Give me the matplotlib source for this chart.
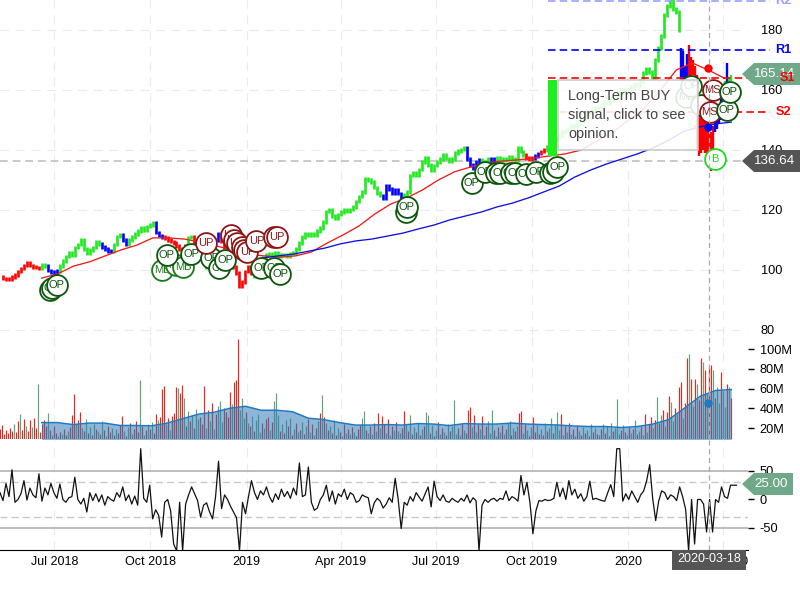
import matplotlib
matplotlib.use("Agg")
import matplotlib.pyplot as plt
import matplotlib.dates as mdates
from matplotlib.patches import Polygon, Rectangle
import numpy as np
import pandas as pd

plt.rcParams.update({
    "font.family": ["Liberation Sans", "DejaVu Sans"],
    "font.size": 9,
    "axes.unicode_minus": False,
})

# ---- price (daily bars, thinned out) ----
price_close = [
    97.8, 97.2, 96.8, 97.0, 97.6, 98.3, 99.5, 100.5, 101.5, 102.3, 101.5, 101.0, 100.8, 100.6, 101.6, 101.4, 99.8, 99.3, 99.0, 99.6,
    101.3, 103.0, 104.5, 105.6, 105.0, 107.5, 108.5, 110.0, 107.0, 105.7, 106.7, 107.5, 109.4, 108.6, 107.6, 107.0, 106.2, 106.4, 108.5, 111.2,
    111.7, 110.0, 108.5, 110.0, 111.0, 112.0, 113.0, 114.0, 113.4, 114.5, 115.0, 115.6, 112.5, 111.5, 111.0, 110.6, 110.0, 109.5, 109.0, 108.0,
    107.0, 106.5, 108.0, 110.8, 111.0, 108.5, 106.0, 104.5, 103.0, 101.0, 104.0, 107.0, 110.0, 112.0, 109.5, 107.7, 105.0, 103.0, 101.0, 99.0,
    94.5, 96.0, 99.5, 101.0, 99.0, 98.0, 99.5, 102.0, 104.0, 105.0, 105.3, 105.0, 105.6, 104.5, 105.2, 105.0, 104.6, 105.5, 105.6, 107.0,
    109.0, 111.0, 112.0, 111.7, 112.0, 111.7, 113.0, 114.0, 116.0, 119.5, 120.0, 118.0, 117.3, 118.5, 119.3, 120.0, 119.5, 120.2, 121.0, 122.8,
    124.5, 126.0, 130.5, 130.0, 129.3, 127.5, 125.7, 124.8, 124.0, 128.0, 127.0, 125.7, 126.7, 125.5, 124.0, 125.0, 126.0, 131.5, 132.5, 131.7,
    133.5, 136.0, 137.3, 135.0, 133.3, 134.8, 136.0, 137.0, 138.3, 137.2, 136.2, 137.0, 139.0, 139.7, 140.2, 140.8, 137.0, 135.0, 134.0, 136.0,
    136.7, 135.5, 136.0, 137.0, 136.2, 137.0, 137.5, 137.0, 136.5, 137.2, 137.7, 137.0, 136.6, 140.6, 139.5, 138.3, 137.3, 136.8, 137.3, 138.0,
    138.8, 139.5, 140.0, 141.0, 143.0, 143.5, 144.0, 145.0, 146.0, 146.5, 147.0, 148.0, 147.5, 149.0, 150.0, 150.5, 152.0, 152.5, 153.0, 154.0,
    154.0, 155.0, 156.0, 155.5, 157.0, 158.0, 158.0, 159.0, 160.0, 159.5, 160.0, 161.0, 162.0, 161.5, 163.0, 165.6, 167.0, 166.0, 164.0, 170.0,
    174.0, 178.0, 185.0, 188.0, 190.0, 187.0, 186.0, 180.0,
]
price_signal = ("r" * 14 + "g" * 2 + "b" * 4 + "g" * 14 + "b" * 4 + "g" * 3 + "b" * 2 + "g" * 9 + "b" * 3 + "r" * 8
                + "g" * 2 + "r" * 2 + "g" * 3 + "b" * 4 + "r" * 11 + "g" * 43 + "b" * 7 + "g" * 21 + "b" * 5 + "g" * 3
                + "b" * 2 + "g" * 10 + "r" * 3 + "b" * 2 + "r" * 2 + "g" * 60)

# last weeks, drawn as high/low bars
crash_high = [174, 173, 168, 172, 175, 171, 170, 168, 165, 155, 153, 152, 151, 150, 147, 146, 148, 150, 152, 155, 158, 162, 163, 169, 164, 165]
crash_low = [163, 163, 163, 164, 164, 164, 165, 160, 140, 138, 139, 140, 139, 138, 137, 133, 139, 146, 147, 149, 150, 153, 158, 160, 160, 163]
crash_signal = "bbbbrrrrrrrrrrrrrbbbbbgbgg"

sma50 = [97.3, 98.7, 101.3, 102.7, 104.7, 106.7, 108.3, 110.7, 110.7, 110.3, 109.3, 108.0, 106.7, 105.3, 104.7, 104.3, 104.7, 106.0, 109.0, 111.7, 114.7, 118.7,
         122.0, 124.0, 126.7, 130.0, 132.7, 134.3, 135.7, 136.3, 136.7, 137.3, 138.0, 138.7, 140.0, 143.0, 146.0, 150.0, 154.0, 160.0, 166.7, 169.0, 166.7, 164.0]
sma200 = [104.0, 104.7, 105.3, 106.3, 107.3, 108.7, 109.7, 110.3, 111.3, 112.3, 113.7, 115.0, 116.7, 118.0, 119.3, 121.0,
          122.3, 124.0, 126.0, 128.0, 131.0, 133.3, 135.3, 137.0, 138.7, 140.7, 143.3, 146.3, 147.7, 148.7, 149.3]

pivot_names = ["R2", "R1", "S1", "S2"]
pivot_levels = [189.7, 173.3, 164.0, 152.7]
pivot_colors = ["#9aa0ff", "#0000ff", "#ff0000", "#ff0000"]

# opinion markers: bar number, price
mb_bar = [54.3, 59.0, 61.3]
mb_price = [100.0, 101.7, 101.0]
op_bar = [16.7, 17.3, 19.0, 55.7, 64.0, 70.7, 73.3, 75.3, 87.3, 91.7, 93.7, 135.7, 136.0, 157.7, 162.0, 165.7, 167.3, 170.7, 172.3, 175.7, 179.3, 184.0, 185.0, 186.3]
op_price = [93.3, 94.0, 95.0, 105.0, 105.3, 104.0, 100.7, 103.3, 100.7, 100.7, 98.7, 119.3, 121.0, 129.0, 132.7, 132.3, 132.3, 132.3, 132.3, 132.0, 132.7, 132.3, 132.7, 134.3]
up_bar = [68.7, 77.3, 78.3, 79.3, 81.0, 81.7, 82.7, 85.7, 91.7, 92.7]
up_price = [109.0, 111.7, 110.0, 109.0, 107.7, 106.7, 106.0, 109.7, 111.0, 111.0]

# ---- volume, millions ----
volume = [
    19, 23, 14, 18, 15, 20, 17, 24, 16, 27, 34, 18, 29, 22, 17, 28, 21, 30, 20, 65, 16, 24, 28, 22, 35,
    18, 13, 22, 15, 12, 16, 14, 19, 13, 17, 21, 33, 54, 24, 28, 36, 20, 17, 29, 15, 21, 13, 24, 19, 17,
    14, 27, 18, 12, 22, 16, 20, 13, 19, 15, 23, 32, 17, 12, 21, 25, 14, 19, 27, 16, 69, 22, 13, 18, 24,
    19, 26, 15, 34, 28, 31, 60, 63, 24, 30, 18, 32, 35, 62, 61, 55, 64, 50, 22, 37, 27, 33, 20, 39, 29,
    31, 24, 63, 20, 38, 27, 45, 19, 34, 42, 47, 26, 40, 36, 31, 56, 44, 67, 69, 110, 38, 50, 30, 36, 25,
    22, 32, 17, 28, 34, 16, 25, 20, 29, 31, 18, 26, 47, 55, 33, 17, 24, 15, 28, 22, 30, 13, 19, 25, 16,
    18, 26, 14, 22, 29, 16, 24, 13, 20, 27, 35, 53, 31, 25, 18, 22, 15, 28, 13, 20, 16, 12, 24, 15, 19,
    14, 21, 16, 12, 19, 23, 30, 37, 18, 15, 22, 14, 25, 17, 35, 20, 32, 24, 15, 29, 13, 22, 18, 26, 17,
    15, 20, 37, 24, 17, 33, 14, 21, 16, 25, 13, 19, 22, 36, 33, 15, 23, 12, 18, 26, 14, 20, 16, 13, 24,
    17, 22, 48, 14, 20, 13, 25, 18, 15, 38, 41, 21, 33, 16, 24, 19, 32, 13, 22, 27, 15, 38, 18, 12, 21,
    16, 23, 14, 19, 25, 27, 13, 20, 17, 22, 35, 37, 15, 24, 18, 12, 21, 31, 16, 23, 14, 19, 13, 25, 17,
    20, 30, 15, 24, 36, 18, 34, 13, 22, 16, 25, 14, 19, 12, 23, 17, 13, 21, 15, 18, 12, 24, 16, 20, 14,
    13, 19, 24, 15, 22, 12, 25, 17, 20, 49, 14, 18, 23, 16, 13, 21, 15, 19, 28, 14, 17, 22, 13, 34, 16,
    24, 31, 20, 28, 51, 25, 33, 38, 22, 36, 52, 46, 27, 40, 34, 62, 67, 30, 45, 91, 95, 70, 42, 70, 65,
    48, 91, 87, 79, 55, 81, 84, 79, 50, 62, 45, 77, 57, 41, 65, 62, 50,
]
volume_side = ("rrrrrrrgrrgrrgrrgrrgrrrrg" "rgrrgrgrrgrrrgrrgrgrgrgrg" "rgrgrrgrgrrrgrgrgrrrgrgrg" "rgrrgrrrgrgrrrgrrgrgrgrgg"
               "rrrgrgrgrgggrrrrgrrrgggrg" "rgrgggrgrrgrgggrgrgrgrgrg" "rgrgrgrgrgrgrgrgrgrgrgrgr" "grgrrrggrgrgrgrgrrgrgrgrg"
               "grrgrgrgrgrgrggrgrgrgrgrg" "rgggrgrgrrrgrgrgrgrgggrgr" "grgrggrgrgrrgrgrgrrgrgrgr" "ggrgggrgrgrgrgrgrgrgrgrgr"
               "grgrgrgrgggrgrgrgrgrgrgrg" "rrgrgrgrgrrggrgrrgrrgrgrg" "rrgrgrrgrggrggrgr")
volume_sma = [25.5, 25.5, 23.5, 25.0, 25.0, 22.6, 22.6, 22.2, 25.0, 29.5, 34.0, 36.0, 40.0, 42.0, 38.0, 38.0, 36.5, 30.0, 28.5, 25.5, 23.0, 23.0, 23.5,
              23.0, 24.5, 24.0, 22.5, 24.5, 24.0, 24.0, 25.0, 24.0, 23.5, 23.0, 22.0, 21.5, 21.5, 20.5, 21.5, 24.0, 28.5, 40.0, 52.0, 58.0, 59.0]

# ---- oscillator ----
oscillator = [
    12, -2, 28, 5, 52, -5, 0, 10, 33, -1, 20, 8, 3, 45, -3, 20, 8, 28, 12, 2,
    27, 0, -5, 3, 5, 39, 0, -8, 2, -22, 12, -2, 10, -4, 8, -10, 5, 0, -3, 12,
    4, 22, -2, 8, -8, 6, -10, 89, 2, -5, 25, -34, -18, -28, -66, -5, 0, -20, -78, -90,
    -5, -90, -8, 8, 22, 10, -2, -31, -10, -6, -22, -34, 5, 67, -16, 8, 0, -12, -22, -32,
    -90, -5, -25, 5, 33, 12, 0, 15, 8, 22, 5, -5, 10, 0, 18, 5, 14, 2, 20, 8,
    64, 5, 8, 57, -5, -19, -15, 0, 8, 25, -3, 15, -8, 10, 5, 18, 0, 12, 8, -5,
    -2, 8, 5, 3, -25, -6, 2, -3, -15, -8, 3, -5, 37, 0, -51, -5, -10, 5, -3, 12,
    4, -3, 10, 22, -13, 32, 5, -2, 8, -3, -5, 2, -2, -5, 2, -3, 8, -6, 3, -2,
    -90, -10, 0, -5, 0, 2, -3, 2, 0, 15, -2, 5, 2, -3, 42, 8, 30, -5, -60, -20,
    -2, -3, 0, -2, -1, 2, 30, 5, 20, 0, 33, 8, 18, 2, 10, -3, 5, 32, 0, 2,
    0, -2, -3, 12, 26, 5, 89, 89, -3, 10, 0, 15, 5, -5, 8, 15, 33, 61, 2, -37,
    -3, 15, 12, 0, 8, 5, -2, 22, 5, -17, -90, 0, -78, 0, 0, -8, -57, 0, -57, 0, -5, 22, 5, 2, 25, 25, 25,
]

tick_dates = ["2018-07-01", "2018-10-01", "2019-01-01", "2019-04-01", "2019-07-01", "2019-10-01", "2020-01-01", "2020-04-01"]
tick_names = ["Jul 2018", "Oct 2018", "2019", "Apr 2019", "Jul 2019", "Oct 2019", "2020", "Apr 2020"]
price_ticks = [80, 100, 120, 140, 160, 180]
volume_ticks = [20, 40, 60, 80, 100]
volume_names = ["20M", "40M", "60M", "80M", "100M"]
osc_ticks = [-50, 0, 50]

RED = "#ff0000"
GREEN = "#1fe81f"
BLUE = "#0000ff"
SIGNAL = {"r": RED, "g": GREEN, "b": BLUE}
GRID = "#ececec"
CURSOR = "#a8a8a8"
TAG_GREEN = "#6fa98a"
TAG_DARK = "#555555"
W, H = 800.0, 600.0


def num(day):
    return mdates.date2num(pd.Timestamp(day))


def span(start, end, n):
    return np.linspace(num(start), num(end), n)


def panel(top, bottom):
    # panels are placed from pixel rows of the 800x600 frame
    ax = fig.add_axes([0, 1 - bottom / H, 748 / W, (bottom - top) / H], facecolor="none")
    for s in ax.spines.values():
        s.set_visible(False)
    ax.set_xlim(num("2018-05-10"), num("2020-04-25"))
    ax.set_xticks([num(d) for d in tick_dates])
    ax.tick_params(axis="x", length=0, labelbottom=False)
    ax.yaxis.tick_right()
    ax.grid(axis="x", color=GRID, linewidth=0.8, linestyle=(0, (8, 6)))
    ax.set_axisbelow(True)
    ax.axvline(num("2020-03-18") + 0.6, color=CURSOR, linewidth=0.9, linestyle=(0, (4, 3)), zorder=9)
    return ax


def tag(x0, yc, x1, half, color, label, shift=0):
    pts = [(x0, yc), (x0 + 12, yc - half), (x1, yc - half), (x1, yc + half), (x0 + 12, yc + half)]
    fig.add_artist(Polygon([(x / W, 1 - y / H) for x, y in pts], closed=True, facecolor=color,
                           edgecolor="none", transform=fig.transFigure, zorder=5))
    fig.text(((x0 + 12 + x1) / 2 + shift) / W, 1 - yc / H, label, color="white", fontsize=9.6,
             ha="center", va="center", zorder=6)


fig = plt.figure(figsize=(8, 6), dpi=100, facecolor="white")
ax = panel(0, 335)
vax = panel(335, 439)
oax = panel(439, 549.5)

# ---- main panel ----
ax.set_ylim(78.33, 190)
ax.set_yticks(price_ticks)
ax.tick_params(axis="y", length=0, pad=9, labelsize=9.2)
ax.grid(axis="y", color=GRID, linewidth=0.8, linestyle=(0, (8, 6)))

pdates = span("2018-05-10", "2020-02-19", len(price_close))
step = pdates[1] - pdates[0]
sig = price_signal.ljust(len(price_close), "g")
# each bar spans the move from the previous close, plus a small wick
for i in range(1, len(price_close)):
    lo = min(price_close[i - 1], price_close[i]) - 0.6
    hi = max(price_close[i - 1], price_close[i]) + 0.6
    ax.vlines(pdates[i], lo, hi, colors=SIGNAL[sig[i]], linewidth=1.9, zorder=3)
cdates = span("2020-02-21", "2020-04-09", len(crash_high))
ax.vlines(cdates, crash_low, crash_high, colors=[SIGNAL[c] for c in crash_signal], linewidth=1.7, zorder=3)

ax.plot(span("2018-06-19", "2020-04-02", len(sma50)), sma50, color="#ee1c1c", linewidth=0.95, zorder=4)
ax.plot(span("2019-01-16", "2020-04-09", len(sma200)), sma200, color="#1010d8", linewidth=0.95, zorder=4)

ax.axhline(136.4, color="#c9c9c9", linewidth=1.4, linestyle=(0, (4, 2.5)), zorder=2)

for name, level, color in zip(pivot_names, pivot_levels, pivot_colors):
    ax.plot([num("2019-10-17"), num("2020-05-16")], [level, level], color=color, linewidth=1.2,
            linestyle=(0, (4.5, 2.5)), clip_on=False, zorder=4)
    if name != "S1":
        ax.text(num("2020-05-21"), level, name, color=color, fontsize=9.2, fontweight="bold",
                ha="left", va="center", clip_on=False, zorder=8)


def opinion(bars, prices, labels, edge, z):
    for b, p, lab in zip(bars, prices, labels):
        xb = pdates[0] + b * step
        ax.plot([xb], [p], "o", markersize=15, markerfacecolor="white", markeredgecolor=edge,
                markeredgewidth=1.3, zorder=z)
        ax.text(xb, p, lab, color=edge, fontsize=8, ha="center", va="center", zorder=z)
        z += 0.001


opinion(mb_bar, mb_price, ["MB"] * len(mb_bar), "#1c7a1c", 5.0)
opinion(op_bar, op_price, ["OP"] * len(op_bar), "#0c550c", 5.1)
opinion(up_bar, up_price, ["UP"] * len(up_bar), "#8c1616", 5.2)
opinion([229.3, 234.3, 231.0], [157.7, 155.0, 161.3], ["MB", "", "OP"], "#0c550c", 5.3)

# big buy bar and its popup
ax.bar(num("2019-10-21"), 25.3, width=9, bottom=138, color="#1df01d", zorder=5.5)
ax.add_patch(Rectangle((num("2019-10-26"), 140), num("2020-03-08") - num("2019-10-26"), 23.3,
                       facecolor=(1, 1, 1, 0.88), edgecolor="#c8c8c8", linewidth=1.1, zorder=6))
ax.text(num("2019-11-05"), 151.8, "Long-Term BUY\nsignal, click to see\nopinion.", color="#444444",
        fontsize=10.4, linespacing=1.45, ha="left", va="center", zorder=6.5)

opinion([238.3, 237.3], [160.0, 152.7], ["MS", "MS"], "#8c1616", 7.0)
opinion([243.0, 244.0], [153.3, 159.3], ["OP", "OP"], "#0c550c", 7.1)
opinion([238.9], [137.0], ["B"], "#1fd81f", 7.2)
ax.plot(num("2020-03-18"), 167.3, "o", color=RED, markersize=5, zorder=9)
ax.plot(num("2020-03-18"), 147.7, "o", color=BLUE, markersize=5, zorder=9)

# ---- volume panel ----
vax.set_ylim(8.9, 114.2)
vdates = span("2018-05-10", "2020-04-09", len(volume))
side = volume_side.ljust(len(volume), "g")
vax.vlines(vdates, 0, volume, colors=["#e8281c" if s == "r" else "#5fa37c" for s in side], linewidth=0.85, zorder=2)
sdates = span("2018-06-19", "2020-04-09", len(volume_sma))
vax.fill_between(sdates, 0, volume_sma, color="#2f7ab8", alpha=0.55, linewidth=0, zorder=3)
vax.plot(sdates, volume_sma, color="#1f78c0", linewidth=1.1, zorder=4)
vax.plot(num("2020-03-18"), 45.5, "o", color="#1f78c0", markersize=5, zorder=9)
vax.set_yticks(volume_ticks)
vax.set_yticklabels(volume_names)
vax.tick_params(axis="y", length=4.5, width=1, pad=4, labelsize=9.2)

# ---- oscillator panel ----
oax.set_ylim(-87.7, 106)
oax.plot(span("2018-05-10", "2020-04-14", len(oscillator)), oscillator, color="#111111", linewidth=0.9, zorder=3)
for lv in [50, -50]:
    oax.axhline(lv, color="#b8b8b8", linewidth=1.3, zorder=2)
for lv in [30, -30]:
    oax.axhline(lv, color="#c9c9c9", linewidth=1.0, linestyle=(0, (5, 3)), zorder=2)
oax.set_yticks(osc_ticks)
oax.tick_params(axis="y", length=4.5, width=1, pad=4, labelsize=9.2)
oax.spines["bottom"].set_visible(True)
oax.spines["bottom"].set_color("black")
oax.set_xticklabels(tick_names)
oax.tick_params(axis="x", labelbottom=True, labelsize=9, pad=5)

# ---- value tags and date label ----
tag(742, 74, 800, 11, TAG_GREEN, "165.14", -2)
tag(742, 161, 800, 11, TAG_DARK, "136.64", -2)
tag(742, 484, 793, 11, TAG_GREEN, "25.00", -2)
fig.text(787 / W, 1 - 78 / H, "S1", color=RED, fontsize=9.2, fontweight="bold", ha="center", va="center", zorder=7)
fig.add_artist(Rectangle((672 / W, 1 - 570 / H), 74 / W, 20 / H, facecolor=TAG_DARK, edgecolor="none",
                         transform=fig.transFigure, zorder=5))
fig.text(709 / W, 1 - 559.5 / H, "2020-03-18", color="white", fontsize=9, ha="center", va="center", zorder=6)

fig.savefig("out.png", dpi=100)
